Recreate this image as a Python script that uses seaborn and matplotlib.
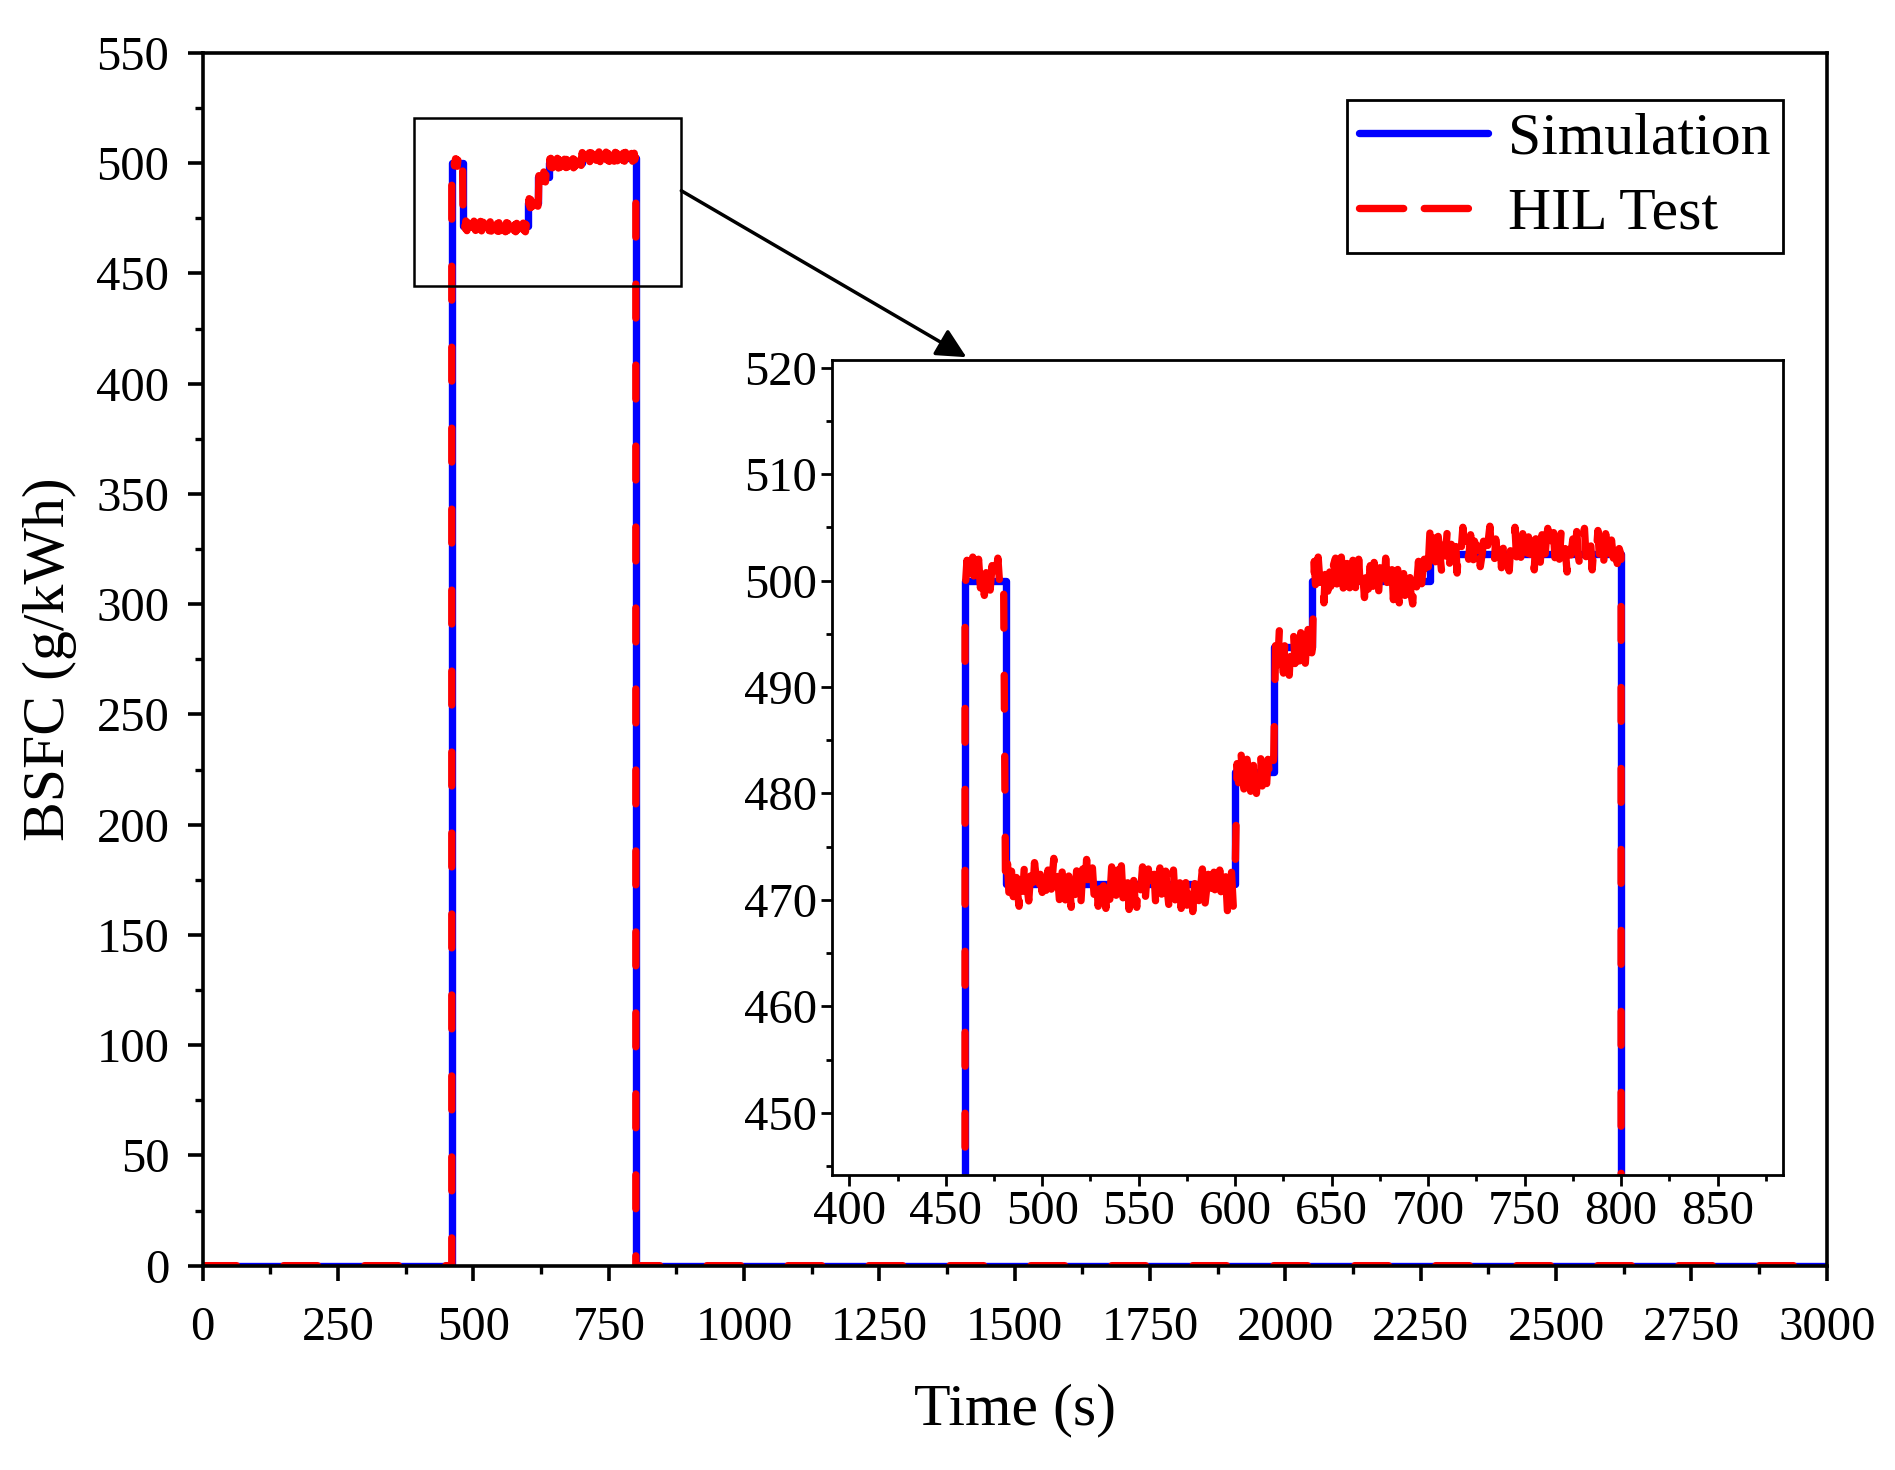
import numpy as np
import pandas as pd
import matplotlib
matplotlib.use("Agg")
import matplotlib.pyplot as plt
import seaborn as sns
from matplotlib.patches import Rectangle
from matplotlib.lines import Line2D
from matplotlib.ticker import MultipleLocator

# simulation: step levels (time s, BSFC g/kWh)
sim_time = [0, 460, 460, 481, 481, 600, 600, 620, 620, 640, 640, 701, 701, 800, 800, 3000]
sim_bsfc = [0, 0, 500, 500, 471.5, 471.5, 482, 482, 493.8, 493.8, 500, 500, 502.5, 502.5, 0, 0]

# HIL test: noisy readings, 1 s sampling inside each operating segment
seg_starts = [460, 481, 601, 621, 641, 701]
seg1 = [499.0, 501.9, 498.5, 501.2, 502.2, 498.8, 500.6, 502.0, 499.3, 501.7, 498.6,
        500.9, 502.3, 499.1, 501.4, 498.7, 500.3, 502.1, 499.5, 501.0, 499.8]
seg2 = [470.6, 473.4, 469.7, 472.9, 470.3, 473.8, 471.0, 469.4, 473.1, 470.8,
        474.0, 471.5, 469.9, 472.6, 470.1, 473.5, 471.9, 469.6, 472.4, 470.7,
        473.7, 470.9, 472.8, 469.5, 471.6, 473.9, 470.2, 472.2, 469.8, 473.3,
        471.1, 470.0, 473.6, 471.8, 469.3, 472.7, 470.5, 473.2, 471.4, 469.6,
        472.9, 470.4, 473.8, 469.9, 471.7, 473.0, 470.1, 472.5, 469.4, 471.2,
        473.4, 470.6, 469.2, 472.3, 470.0, 473.1, 471.5, 469.5, 472.8, 470.3,
        473.2, 469.7, 471.9, 472.6, 469.1, 471.4, 473.0, 470.2, 469.3, 472.5,
        470.8, 473.1, 469.0, 471.6, 472.9, 469.8, 471.0, 472.4, 468.9, 471.8,
        473.0, 470.1, 469.4, 472.7, 470.6, 468.8, 471.9, 472.8, 469.6, 470.9,
        472.6, 469.2, 471.3, 473.0, 469.5, 470.4, 472.2, 468.9, 471.5, 472.7,
        469.7, 471.0, 472.9, 469.0, 470.7, 472.4, 469.3, 471.8, 472.6, 469.1,
        470.5, 472.8, 469.6, 471.2, 472.5, 468.9, 470.9, 472.9, 469.4, 472.6]
seg3 = [482.8, 480.4, 483.9, 481.1, 479.8, 483.4, 481.9, 480.2, 483.7, 481.5,
        480.0, 482.9, 484.1, 480.7, 482.3, 479.9, 483.2, 481.3, 480.5, 483.6]
seg4 = [494.9, 491.8, 495.8, 493.0, 491.3, 495.4, 492.6, 491.1, 494.7, 496.0,
        492.2, 493.9, 491.5, 495.1, 492.9, 491.2, 494.3, 495.7, 492.4, 493.6]
seg5 = [501.8, 498.3, 502.2, 499.6, 501.1, 497.9, 502.0, 499.0, 500.8, 498.2,
        501.5, 502.1, 498.6, 500.4, 502.2, 499.3, 497.8, 501.6, 499.9, 498.1,
        501.9, 500.2, 497.9, 502.0, 498.8, 500.9, 498.4, 502.2, 499.2, 501.4,
        498.0, 501.7, 499.5, 497.7, 501.2, 500.6, 498.5, 502.1, 499.1, 500.3,
        501.9, 498.2, 500.7, 502.0, 497.9, 499.8, 501.5, 498.6, 500.1, 502.2,
        498.9, 497.8, 501.3, 499.4, 501.8, 498.3, 500.5, 502.0, 499.0, 501.1]
seg6 = [504.8, 501.9, 504.0, 501.1, 504.5, 502.6, 500.8, 504.2, 502.3, 505.0,
        501.4, 503.4, 501.9, 504.7, 500.7, 503.8, 502.5, 505.0, 501.6, 503.1,
        502.0, 504.3, 500.6, 503.7, 502.8, 504.9, 501.3, 502.5, 504.2, 501.8,
        503.5, 505.1, 502.0, 500.7, 503.9, 502.4, 504.6, 501.2, 503.2, 504.8,
        501.9, 500.9, 503.9, 502.6, 505.0, 501.5, 503.6, 502.1, 504.4, 502.7,
        500.8, 504.1, 502.2, 503.8, 501.0, 504.7, 502.9, 501.4, 504.3, 500.9,
        503.3, 504.9, 501.7, 502.8, 504.5, 501.1, 503.6, 502.0, 504.8, 501.5,
        503.0, 500.8, 504.2, 502.4, 503.9, 501.3, 504.6, 502.1, 500.9, 503.7,
        504.9, 501.6, 502.9, 504.3, 501.0, 503.5, 502.2, 504.7, 501.4, 503.2,
        501.8, 504.4, 502.5, 500.9, 503.8, 502.1, 504.5, 501.6, 503.0, 502.4]
segments = [seg1, seg2, seg3, seg4, seg5, seg6]

hil_t = [0, 460]
hil_v = [0, 0]
for start, seg in zip(seg_starts, segments):
    hil_t += [start + i for i in range(len(seg))]
    hil_v += seg
hil_t += [800, 3000]
hil_v += [0, 0]

sim = pd.DataFrame({"Time": sim_time, "BSFC": sim_bsfc})
hil = pd.DataFrame({"Time": hil_t, "BSFC": hil_v})

inset_xlim = (391, 884)
inset_ylim = (444.2, 520.7)

sns.set_theme(style="ticks")
plt.rcParams["font.family"] = ["Liberation Serif", "DejaVu Serif"]
plt.rcParams["text.color"] = "black"
plt.rcParams["axes.labelcolor"] = "black"
plt.rcParams["xtick.color"] = "black"
plt.rcParams["ytick.color"] = "black"
plt.rcParams["axes.linewidth"] = 2.6
plt.rcParams["xtick.major.width"] = 2.6
plt.rcParams["ytick.major.width"] = 2.6
plt.rcParams["xtick.minor.width"] = 2.4
plt.rcParams["ytick.minor.width"] = 2.4
plt.rcParams["xtick.major.size"] = 11
plt.rcParams["ytick.major.size"] = 11
plt.rcParams["xtick.minor.size"] = 6
plt.rcParams["ytick.minor.size"] = 6
plt.rcParams["axes.edgecolor"] = "black"

fig = plt.figure(figsize=(18.95, 14.70), dpi=100)
ax = fig.add_axes([0.107, 0.139, 0.857, 0.825])

lw = 5.3
dash = (4.6, 6.4)
def draw(a):
    sns.lineplot(data=sim, x="Time", y="BSFC", ax=a, color="#0000ff", lw=lw,
                 estimator=None, sort=False, solid_capstyle="butt")
    sns.lineplot(data=hil, x="Time", y="BSFC", ax=a, color="#ff0000", lw=lw,
                 estimator=None, sort=False)
    a.lines[-1].set_dashes(dash)
    a.lines[-1].set_dash_capstyle("round")

draw(ax)
ax.set_xlim(0, 3000)
ax.set_ylim(0, 550)
ax.xaxis.set_major_locator(MultipleLocator(250))
ax.xaxis.set_minor_locator(MultipleLocator(125))
ax.yaxis.set_major_locator(MultipleLocator(50))
ax.yaxis.set_minor_locator(MultipleLocator(25))
ax.tick_params(axis="both", which="both", direction="out", labelsize=35)
ax.tick_params(axis="x", which="major", pad=18)
ax.tick_params(axis="y", which="major", pad=13)
ax.set_xlabel("Time (s)", fontsize=43, labelpad=24)
ax.set_ylabel("BSFC (g/kWh)", fontsize=43, labelpad=14)

# zoom window marker
ax.add_patch(Rectangle((inset_xlim[0], inset_ylim[0]), inset_xlim[1] - inset_xlim[0],
                       inset_ylim[1] - inset_ylim[0], fill=False, ec="black", lw=1.8, zorder=5))
ax.annotate("", xy=(0.510, 0.757), xycoords="figure fraction",
            xytext=(inset_xlim[1], 487.5), textcoords="data",
            arrowprops=dict(arrowstyle="-|>", color="black", lw=2.5, mutation_scale=45,
                            shrinkA=0, shrinkB=0), zorder=6)

handles = [Line2D([], [], color="#0000ff", lw=lw),
           Line2D([], [], color="#ff0000", lw=lw, dashes=(6.0, 2.8), dash_capstyle="round")]
leg = ax.legend(handles, ["Simulation", "HIL Test"], loc="upper right",
                bbox_to_anchor=(0.973, 0.961), borderaxespad=0, fontsize=43,
                fancybox=False, edgecolor="black", framealpha=1,
                handlelength=2.15, labelspacing=0.33, handletextpad=0.35, borderpad=0.2)
leg.get_frame().set_linewidth(2)

# inset
axi = fig.add_axes([0.439, 0.201, 0.502, 0.554])
draw(axi)
axi.set_xlim(*inset_xlim)
axi.set_ylim(*inset_ylim)
axi.xaxis.set_major_locator(MultipleLocator(50))
axi.xaxis.set_minor_locator(MultipleLocator(25))
axi.yaxis.set_major_locator(MultipleLocator(10))
axi.yaxis.set_minor_locator(MultipleLocator(5))
axi.tick_params(axis="both", which="major", direction="out", labelsize=35, length=8, width=2, pad=3)
axi.tick_params(axis="both", which="minor", direction="out", length=4.5, width=2)
axi.set_xlabel("")
axi.set_ylabel("")
for s in axi.spines.values():
    s.set_linewidth(2)

fig.savefig("out.png", dpi=100)
